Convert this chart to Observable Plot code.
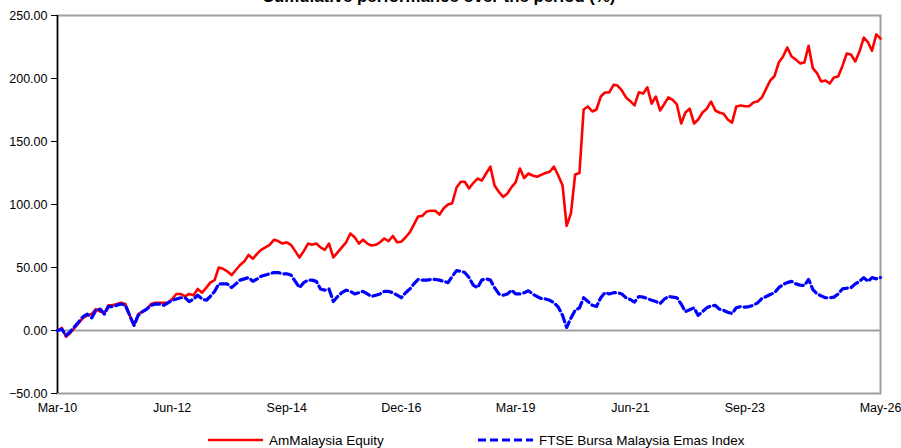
<!DOCTYPE html>
<html>
<head>
<meta charset="utf-8">
<script src="https://cdn.jsdelivr.net/npm/d3@7"></script>
<script src="https://cdn.jsdelivr.net/npm/@observablehq/plot@0.6"></script>
<style>
  html, body { margin: 0; padding: 0; background: #fff; overflow: hidden; }
  #page { position: relative; width: 901px; height: 448px; font-family: "Liberation Sans", Arial, sans-serif; }
  #title { position: absolute; left: 262px; top: -10.7px; font-size: 16.8px; line-height: 1; font-weight: bold; color: #000; white-space: nowrap; }
  #chart { position: absolute; left: 0; top: 0; }
  .leg { position: absolute; top: 431px; height: 18px; display: flex; align-items: center; font-size: 13.5px; color: #000; white-space: nowrap; }
  .leg svg { margin-right: 6px; }
</style>
</head>
<body>
<div id="page">
  <div id="chart"></div>
  <div id="title">Cumulative performance over the period (%)</div>
  <div id="legend"></div>
</div>
<script>
// ---- Data (monthly, Mar-2010 .. May-2026) ----
const startMonth = "2010-03";
const seriesNames = ["AmMalaysia Equity", "FTSE Bursa Malaysia Emas Index"];
const seriesColors = ["#ff0000", "#0000ff"];

const amMalaysia = [
  0, 2, -5, -2, 2, 6, 10, 12, 13, 17, 15, 14, 20, 20, 21, 22, 21, 12, 4, 13,
  15, 17, 21, 22, 22, 22, 22, 25, 29, 29, 27, 29, 28, 33, 30, 34, 38, 40, 50, 49,
  47, 44, 48, 52, 55, 60, 57, 61, 64, 66, 68, 72, 71, 69, 70, 68, 63, 58, 63, 69,
  68, 69, 66, 64, 69, 58, 62, 66, 70, 77, 74, 69, 72, 69, 67.5, 68, 70, 73, 71, 75,
  70, 70.5, 74, 78, 84, 90.5, 91, 94.5, 95, 95, 92, 97, 100, 101, 113.5, 118, 118, 112.7, 117, 120.6,
  119, 124.6, 130, 115, 110, 106, 108.7, 114, 117.5, 128.6, 121, 124.6, 123, 122, 123.5, 125, 126, 130, 123, 115,
  83, 93, 123.8, 125, 175.4, 177.8, 173.8, 175.4, 185.7, 188.9, 189, 195, 194.4, 190.5, 185, 182, 178.6, 189, 188, 193,
  180, 185.7, 174.6, 180, 185, 183, 179.4, 164.3, 173, 176, 164.3, 167.5, 173, 176, 181.7, 174.6, 173, 172, 167.5, 165,
  177.8, 178.6, 178, 178, 181, 181.7, 185, 192, 198.4, 202, 212.7, 217.5, 224.6, 217.5, 215, 212, 212.7, 226, 208, 204,
  197.6, 198.4, 196, 200.8, 201.6, 210, 219.8, 219, 213.5, 221.4, 232.5, 228.6, 222, 235, 231.7
];

const ftseEmas = [
  0, 1, -4, -1, 3, 7, 11, 13, 10, 16, 17, 13, 19, 19, 20, 21, 20, 12, 4, 12,
  15, 17, 20, 21, 21, 20, 22, 24, 25, 26, 26, 23, 25, 28, 25, 24, 27, 31, 37, 37,
  37, 34, 37, 40, 41, 42, 39, 41, 43, 44, 45, 46, 46, 45, 45, 44, 39, 34, 38, 40,
  40, 39, 33, 32, 33, 23, 27, 30, 32, 31, 29, 30, 31, 29, 27, 28, 29, 31, 31, 30,
  28, 26, 30, 33, 37, 40.5, 40, 40, 40.5, 40.5, 40, 39, 38, 43, 47.5, 47, 46, 42, 36, 34,
  40, 41, 40, 34, 29, 28, 29, 32, 29, 29, 30, 31.5, 29, 27, 25.4, 25, 24, 22, 18.5, 12,
  2.4, 10, 16, 18, 26, 23, 20, 19, 26, 30, 29, 30, 30, 29, 26, 24.6, 22.5, 27, 26.5, 25.4,
  24, 23, 21.4, 25, 27, 26.5, 26, 21, 15, 16.5, 18, 12, 15, 18, 19.5, 20, 17, 16, 14.5, 13.5,
  18, 19, 18.5, 19, 20, 22, 25.4, 27, 28.6, 30, 34, 36.5, 38, 39, 37, 36, 35.7, 40.5, 32.5, 29,
  27.5, 26, 26, 26.5, 29, 33, 33.5, 34, 37, 39, 42, 39, 42, 41, 42
];

const tickMonths = ["2010-03", "2012-06", "2014-09", "2016-12", "2019-03", "2021-06", "2023-09", "2026-05"];
const tickLabels = ["Mar-10", "Jun-12", "Sep-14", "Dec-16", "Mar-19", "Jun-21", "Sep-23", "May-26"];
const yTicks = [-50, 0, 50, 100, 150, 200, 250];

// ---- Build table ----
const parseMonth = d3.utcParse("%Y-%m");
const start = parseMonth(startMonth);
const dates = amMalaysia.map((_, i) => d3.utcMonth.offset(start, i));
const rows = [];
amMalaysia.forEach((v, i) => rows.push({date: dates[i], value: v, series: seriesNames[0]}));
ftseEmas.forEach((v, i) => rows.push({date: dates[i], value: v, series: seriesNames[1]}));
const tickDates = tickMonths.map(parseMonth);
const labelByTime = new Map(tickDates.map((d, i) => [+d, tickLabels[i]]));

const chart = Plot.plot({
  width: 901,
  height: 420,
  marginLeft: 57,
  marginRight: 21,
  marginTop: 15,
  marginBottom: 27,
  style: {fontFamily: "'Liberation Sans', Arial, sans-serif", fontSize: "12.5px", color: "#000", background: "#fff"},
  x: {type: "utc", domain: [dates[0], dates[dates.length - 1]]},
  y: {domain: [-50, 250]},
  marks: [
    Plot.frame({stroke: "#a0a0a0", strokeWidth: 2}),
    Plot.ruleY([0], {stroke: "#a0a0a0", strokeWidth: 2}),
    Plot.ruleX([dates[0]], {stroke: "#000", strokeWidth: 1.5}),
    Plot.axisY({ticks: yTicks, tickFormat: d3.format(".2f"), tickSize: 6, tickPadding: 4, stroke: "#000", fill: "#000", label: null}),
    Plot.axisX({ticks: tickDates, tickFormat: d => labelByTime.get(+d), tickSize: 0, tickPadding: 10, fill: "#000", label: null}),
    Plot.lineY(rows.filter(d => d.series === seriesNames[0]), {x: "date", y: "value", stroke: seriesColors[0], strokeWidth: 2.6, strokeLinejoin: "round"}),
    Plot.lineY(rows.filter(d => d.series === seriesNames[1]), {x: "date", y: "value", stroke: seriesColors[1], strokeWidth: 3.2, strokeDasharray: "8,4"})
  ]
});
document.getElementById("chart").appendChild(chart);

// ---- Legend ----
const legend = document.getElementById("legend");
const legPos = [208, 478];
seriesNames.forEach((name, i) => {
  const item = document.createElement("div");
  item.className = "leg";
  item.style.left = legPos[i] + "px";
  const dash = i === 1 ? ' stroke-dasharray="8,4"' : '';
  const sw = i === 1 ? 3.2 : 2.6;
  item.innerHTML = `<svg width="55" height="18"><line x1="0" y1="9" x2="55" y2="9" stroke="${seriesColors[i]}" stroke-width="${sw}"${dash}/></svg><span>${name}</span>`;
  legend.appendChild(item);
});
</script>
</body>
</html>
